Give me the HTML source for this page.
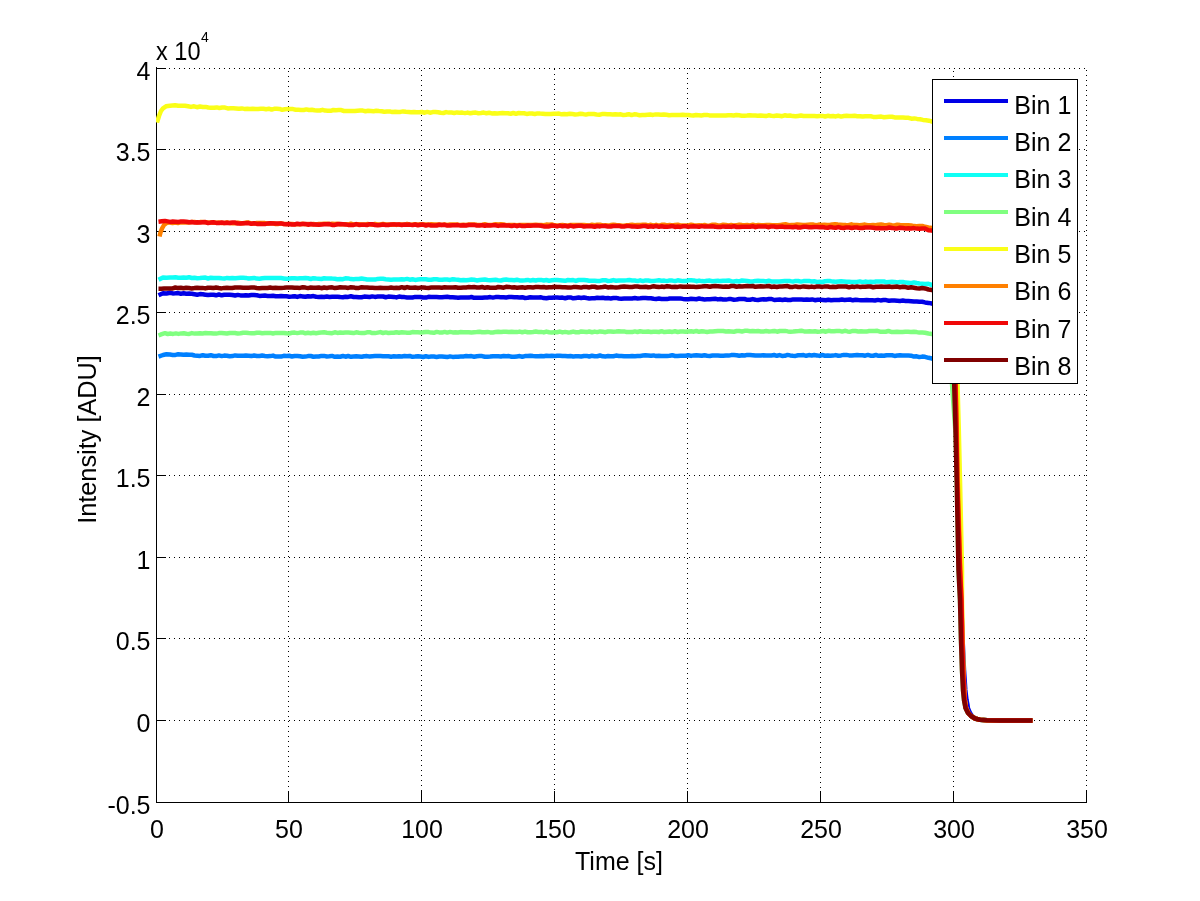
<!DOCTYPE html>
<html><head><meta charset="utf-8"><title>Intensity vs Time</title>
<style>html,body{margin:0;padding:0;background:#fff;width:1200px;height:901px;overflow:hidden}</style>
</head><body>
<div style="will-change:transform;width:1200px;height:901px">
<svg width="1200" height="901" viewBox="0 0 1200 901" style="display:block">
<rect x="0" y="0" width="1200" height="901" fill="#fff"/>
<g stroke="#000" stroke-width="1" stroke-dasharray="1 4" shape-rendering="crispEdges" fill="none"><line x1="159" y1="68.5" x2="1087" y2="68.5"/><line x1="159" y1="149.5" x2="1087" y2="149.5"/><line x1="159" y1="231.5" x2="1087" y2="231.5"/><line x1="159" y1="312.5" x2="1087" y2="312.5"/><line x1="159" y1="394.5" x2="1087" y2="394.5"/><line x1="159" y1="475.5" x2="1087" y2="475.5"/><line x1="159" y1="557.5" x2="1087" y2="557.5"/><line x1="159" y1="638.5" x2="1087" y2="638.5"/><line x1="159" y1="720.5" x2="1087" y2="720.5"/><line x1="288.5" y1="802" x2="288.5" y2="68"/><line x1="421.5" y1="801" x2="421.5" y2="68"/><line x1="554.5" y1="800" x2="554.5" y2="68"/><line x1="687.5" y1="799" x2="687.5" y2="68"/><line x1="820.5" y1="798" x2="820.5" y2="68"/><line x1="953.5" y1="802" x2="953.5" y2="68"/><line x1="1086.5" y1="801" x2="1086.5" y2="68"/></g>
<g stroke="#000" stroke-width="1" shape-rendering="crispEdges" fill="none">
<line x1="156.5" y1="67" x2="156.5" y2="803"/>
<line x1="156" y1="802.5" x2="1087" y2="802.5"/>
<line x1="156" y1="68.5" x2="166" y2="68.5"/>
<line x1="156" y1="149.5" x2="166" y2="149.5"/>
<line x1="156" y1="231.5" x2="166" y2="231.5"/>
<line x1="156" y1="312.5" x2="166" y2="312.5"/>
<line x1="156" y1="394.5" x2="166" y2="394.5"/>
<line x1="156" y1="475.5" x2="166" y2="475.5"/>
<line x1="156" y1="557.5" x2="166" y2="557.5"/>
<line x1="156" y1="638.5" x2="166" y2="638.5"/>
<line x1="156" y1="720.5" x2="166" y2="720.5"/>
<line x1="156" y1="802.5" x2="166" y2="802.5"/>
<line x1="156.5" y1="803" x2="156.5" y2="791"/>
<line x1="288.5" y1="803" x2="288.5" y2="791"/>
<line x1="421.5" y1="803" x2="421.5" y2="791"/>
<line x1="554.5" y1="803" x2="554.5" y2="791"/>
<line x1="687.5" y1="803" x2="687.5" y2="791"/>
<line x1="820.5" y1="803" x2="820.5" y2="791"/>
<line x1="953.5" y1="803" x2="953.5" y2="791"/>
<line x1="1086.5" y1="803" x2="1086.5" y2="791"/>
</g>
<defs><clipPath id="pa"><rect x="156" y="60" width="940" height="745"/></clipPath></defs><g clip-path="url(#pa)">
<polyline points="158.5,295.3 163.0,293.2 166.5,293.5 170.0,292.8 172.7,293.4 175.5,293.3 178.2,293.1 180.9,293.7 183.6,293.3 186.4,293.8 189.1,293.6 191.8,293.7 194.5,294.2 197.3,294.7 200.0,294.1 202.7,294.3 205.4,294.7 208.1,295.1 210.8,294.8 213.5,294.7 216.2,295.3 218.9,294.4 221.6,295.3 224.3,294.8 227.0,294.7 229.7,294.7 232.4,295.0 235.1,295.5 237.8,294.9 240.5,295.4 243.2,295.5 245.9,295.3 248.6,295.5 251.4,295.1 254.1,295.1 256.8,295.3 259.5,295.9 262.2,295.7 264.9,295.6 267.6,295.9 270.3,295.9 273.0,295.8 275.7,296.3 278.4,296.3 281.1,295.9 283.8,296.3 286.5,296.3 289.2,296.7 291.9,296.6 294.6,296.2 297.3,296.9 300.0,296.1 302.7,296.4 305.4,296.8 308.0,296.2 310.7,296.5 313.4,296.1 316.1,296.8 318.8,296.9 321.4,296.7 324.1,297.0 326.8,296.5 329.5,296.9 332.1,296.8 334.8,296.8 337.5,296.7 340.2,297.1 342.9,297.2 345.5,296.7 348.2,296.9 350.9,296.3 353.6,297.0 356.2,296.9 358.9,297.3 361.6,297.2 364.3,296.6 367.0,296.7 369.6,297.0 372.3,296.4 375.0,296.9 377.7,296.6 380.4,296.5 383.0,296.5 385.7,297.2 388.4,296.6 391.1,296.7 393.8,296.9 396.4,297.4 399.1,296.6 401.8,297.0 404.5,297.1 407.1,297.5 409.8,297.4 412.5,297.5 415.2,296.9 417.9,297.0 420.5,297.0 423.2,297.5 425.9,297.6 428.6,296.8 431.2,296.9 433.9,296.9 436.6,297.0 439.3,297.2 442.0,297.3 444.6,297.0 447.3,296.8 450.0,297.2 452.7,297.2 455.4,297.4 458.0,297.8 460.7,297.5 463.4,297.4 466.1,297.5 468.8,297.6 471.4,297.0 474.1,297.8 476.8,297.7 479.5,297.8 482.1,297.7 484.8,297.4 487.5,297.4 490.2,297.1 492.9,297.6 495.5,297.1 498.2,297.1 500.9,297.2 503.6,297.2 506.2,297.4 508.9,297.1 511.6,297.1 514.3,297.3 517.0,297.2 519.6,297.5 522.3,297.2 525.0,298.0 527.7,297.8 530.4,297.3 533.0,297.4 535.7,297.5 538.4,297.6 541.1,297.3 543.8,298.1 546.4,298.2 549.1,297.7 551.8,297.8 554.5,297.4 557.1,297.4 559.8,297.7 562.5,297.6 565.2,298.2 567.9,297.5 570.5,297.4 573.2,298.3 575.9,297.9 578.6,297.5 581.2,298.0 583.9,297.5 586.6,298.0 589.3,298.4 592.0,298.3 594.6,298.2 597.3,297.7 600.0,297.9 602.7,297.7 605.4,298.3 608.0,298.1 610.7,298.4 613.4,298.0 616.1,297.9 618.8,298.5 621.4,298.7 624.1,298.6 626.8,298.6 629.5,298.6 632.1,298.5 634.8,298.1 637.5,298.4 640.2,298.2 642.9,297.9 645.5,298.0 648.2,298.2 650.9,298.2 653.6,298.7 656.2,299.0 658.9,298.5 661.6,299.0 664.3,299.1 667.0,299.1 669.6,298.5 672.3,298.4 675.0,298.4 677.7,298.4 680.4,298.5 683.0,298.9 685.7,299.2 688.4,299.2 691.1,298.8 693.8,299.0 696.4,299.2 699.1,298.5 701.8,299.1 704.5,299.4 707.1,299.3 709.8,299.3 712.5,299.0 715.2,298.8 717.9,299.4 720.5,299.0 723.2,299.5 725.9,299.6 728.6,299.1 731.2,299.1 733.9,299.7 736.6,299.5 739.3,299.0 742.0,299.0 744.6,299.0 747.3,299.8 750.0,299.7 752.7,299.1 755.4,299.8 758.1,299.9 760.8,299.6 763.5,299.3 766.2,299.5 768.9,299.1 771.6,299.0 774.3,300.0 777.0,299.7 779.7,299.6 782.4,300.0 785.1,299.5 787.8,300.0 790.5,300.0 793.2,299.4 795.9,299.4 798.6,299.5 801.4,299.4 804.1,299.8 806.8,299.5 809.5,299.7 812.2,299.4 814.9,300.2 817.6,299.7 820.3,299.8 823.0,299.9 825.7,300.3 828.4,299.8 831.1,300.3 833.8,299.9 836.5,300.0 839.2,300.0 841.9,299.5 844.6,299.9 847.3,299.7 850.0,299.5 852.8,300.3 855.6,299.7 858.3,300.1 861.1,300.3 863.9,300.2 866.7,300.0 869.4,300.2 872.2,300.3 875.0,300.5 877.8,299.9 880.6,300.4 883.3,300.1 886.1,300.1 888.9,300.7 891.7,300.4 894.4,300.5 897.2,300.7 900.0,300.9 902.8,300.6 905.6,300.9 908.3,301.0 911.1,301.2 913.9,301.5 916.7,301.5 919.4,301.7 922.2,301.8 925.0,302.4 928.5,302.9 932.0,303.5 938.0,306.5 946.0,313.2 951.0,347.8 954.5,350.0 955.2,384.0 956.6,430.0 957.8,480.0 959.1,540.0 960.9,560.0 961.1,568.0 960.8,570.0 960.0,580.0 961.2,600.0 962.2,630.0 962.6,640.0 964.0,670.0 965.3,690.0 966.5,700.0 967.5,705.0 967.9,708.0 970.0,713.0 972.0,716.0 975.2,718.5 976.9,719.0 980.0,719.8 987.0,720.3 1000.0,720.5 1032.5,720.5" fill="none" stroke="#0000e6" stroke-width="4.5" stroke-linejoin="round" stroke-linecap="butt"/>
<polyline points="158.5,356.6 163.0,355.0 166.5,354.3 170.0,354.5 172.7,354.9 175.5,354.9 178.2,354.3 180.9,354.4 183.6,354.8 186.4,354.6 189.1,354.8 191.8,354.8 194.5,355.5 197.3,355.7 200.0,355.9 202.7,355.2 205.4,355.8 208.1,355.7 210.8,355.2 213.5,356.0 216.2,356.1 218.9,355.4 221.6,356.1 224.3,355.6 227.0,355.7 229.7,356.2 232.4,356.1 235.1,355.4 237.8,355.7 240.5,355.8 243.2,355.7 245.9,355.6 248.6,355.7 251.4,356.1 254.1,355.5 256.8,356.0 259.5,355.9 262.2,355.5 264.9,355.9 267.6,356.2 270.3,356.1 273.0,355.6 275.7,356.6 278.4,356.4 281.1,356.6 283.8,355.8 286.5,356.0 289.2,355.8 291.9,356.5 294.6,356.0 297.3,355.9 300.0,356.2 302.7,356.7 305.4,356.6 308.0,356.1 310.7,356.0 313.4,356.7 316.1,356.4 318.8,356.5 321.4,355.9 324.1,355.9 326.8,356.5 329.5,356.3 332.1,355.9 334.8,356.8 337.5,356.5 340.2,356.7 342.9,356.0 345.5,356.7 348.2,356.0 350.9,356.8 353.6,356.4 356.2,356.3 358.9,356.5 361.6,356.8 364.3,356.2 367.0,356.1 369.6,356.5 372.3,356.2 375.0,356.1 377.7,356.1 380.4,356.0 383.0,356.2 385.7,356.3 388.4,356.3 391.1,356.7 393.8,356.3 396.4,356.5 399.1,356.2 401.8,356.4 404.5,356.0 407.1,356.3 409.8,356.0 412.5,356.8 415.2,356.6 417.9,356.2 420.5,356.5 423.2,357.0 425.9,356.2 428.6,356.9 431.2,356.5 433.9,356.6 436.6,356.9 439.3,356.5 442.0,356.6 444.6,356.8 447.3,357.1 450.0,356.4 452.7,356.9 455.4,356.8 458.0,356.7 460.7,356.5 463.4,356.4 466.1,356.1 468.8,356.2 471.4,356.1 474.1,356.7 476.8,356.2 479.5,356.1 482.1,356.1 484.8,356.8 487.5,356.8 490.2,356.6 492.9,356.2 495.5,356.2 498.2,356.2 500.9,356.4 503.6,356.0 506.2,356.3 508.9,356.1 511.6,356.8 514.3,356.8 517.0,356.4 519.6,356.1 522.3,356.8 525.0,356.1 527.7,356.1 530.4,355.8 533.0,356.1 535.7,356.2 538.4,356.2 541.1,355.9 543.8,356.2 546.4,355.7 549.1,356.0 551.8,355.8 554.5,356.1 557.1,355.7 559.8,355.7 562.5,356.0 565.2,355.9 567.9,356.2 570.5,356.1 573.2,356.4 575.9,356.3 578.6,356.3 581.2,356.5 583.9,356.0 586.6,355.9 589.3,356.5 592.0,355.7 594.6,356.2 597.3,356.2 600.0,355.5 602.7,356.3 605.4,356.4 608.0,356.1 610.7,356.2 613.4,356.3 616.1,355.6 618.8,355.9 621.4,355.9 624.1,356.2 626.8,356.2 629.5,356.2 632.1,356.0 634.8,356.3 637.5,356.0 640.2,356.0 642.9,355.6 645.5,355.3 648.2,355.4 650.9,355.7 653.6,355.4 656.2,356.1 658.9,355.8 661.6,355.9 664.3,355.9 667.0,355.9 669.6,355.7 672.3,355.2 675.0,356.0 677.7,355.9 680.4,355.7 683.0,355.7 685.7,355.8 688.4,355.2 691.1,355.9 693.8,355.4 696.4,355.2 699.1,355.4 701.8,355.8 704.5,355.3 707.1,355.8 709.8,356.0 712.5,355.5 715.2,355.4 717.9,355.5 720.5,355.7 723.2,355.8 725.9,355.6 728.6,355.6 731.2,355.1 733.9,355.1 736.6,355.2 739.3,355.7 742.0,355.2 744.6,355.5 747.3,354.9 750.0,355.0 752.7,355.2 755.4,355.6 758.0,355.6 760.7,355.6 763.4,355.2 766.1,355.4 768.8,355.4 771.4,355.4 774.1,355.0 776.8,355.8 779.5,355.1 782.1,355.9 784.8,355.8 787.5,354.9 790.2,355.4 792.9,355.7 795.5,355.9 798.2,355.3 800.9,355.2 803.6,355.1 806.2,355.8 808.9,355.1 811.6,355.5 814.3,355.0 817.0,355.4 819.6,355.9 822.3,355.0 825.0,355.7 827.7,355.4 830.4,355.8 833.0,355.6 835.7,355.1 838.4,355.8 841.1,355.4 843.8,354.9 846.4,354.9 849.1,355.4 851.8,355.4 854.5,355.2 857.1,355.0 859.8,355.2 862.5,355.2 865.2,355.7 867.9,354.9 870.5,355.7 873.2,355.7 875.9,355.0 878.6,355.8 881.2,355.6 883.9,355.8 886.6,355.2 889.3,355.3 892.0,355.3 894.6,355.9 897.3,355.5 900.0,355.3 902.8,355.5 905.6,355.5 908.3,355.5 911.1,355.7 913.9,356.6 916.7,356.3 919.4,357.1 922.2,356.6 925.0,356.8 928.5,357.8 932.0,358.5 938.0,361.5 946.0,361.6 951.0,372.5 954.3,350.0 955.0,384.0 956.3,430.0 957.5,480.0 959.3,570.0 960.8,600.0 961.8,640.0 962.8,670.0 963.8,690.0 964.5,700.0 965.8,708.0 968.2,713.0 971.1,716.0 975.0,718.5 976.9,719.0 980.0,719.8 987.0,720.3 1000.0,720.5 1032.5,720.5" fill="none" stroke="#0080ff" stroke-width="4.5" stroke-linejoin="round" stroke-linecap="butt"/>
<polyline points="158.5,279.7 163.0,277.4 166.5,277.7 170.0,277.4 172.7,277.4 175.5,277.3 178.2,277.7 180.9,277.8 183.6,277.5 186.4,277.8 189.1,277.2 191.8,278.0 194.5,277.8 197.3,278.2 200.0,278.1 202.7,277.8 205.4,277.6 208.1,278.5 210.8,277.7 213.5,278.0 216.2,277.9 218.9,277.9 221.6,278.3 224.3,278.6 227.0,277.9 229.7,278.3 232.4,277.9 235.1,278.2 237.8,278.0 240.5,277.8 243.2,277.8 245.9,277.9 248.6,278.6 251.4,278.2 254.1,277.9 256.8,278.6 259.5,278.7 262.2,278.2 264.9,277.9 267.6,278.0 270.3,277.9 273.0,278.1 275.7,277.9 278.4,278.1 281.1,278.1 283.8,278.4 286.5,278.7 289.2,278.6 291.9,278.3 294.6,278.3 297.3,278.4 300.0,278.3 302.7,278.3 305.4,278.0 308.0,278.3 310.7,279.0 313.4,278.2 316.1,278.6 318.8,278.7 321.4,279.0 324.1,278.3 326.8,278.4 329.5,278.4 332.1,278.6 334.8,278.7 337.5,279.2 340.2,279.1 342.9,279.2 345.5,278.3 348.2,278.4 350.9,279.1 353.6,279.3 356.2,278.9 358.9,279.0 361.6,278.5 364.3,278.9 367.0,279.5 369.6,279.4 372.3,279.4 375.0,279.6 377.7,278.9 380.4,278.8 383.0,278.8 385.7,279.2 388.4,279.4 391.1,279.7 393.8,279.5 396.4,279.4 399.1,279.6 401.8,279.3 404.5,279.4 407.1,278.9 409.8,279.7 412.5,279.2 415.2,279.9 417.9,279.6 420.5,279.3 423.2,279.2 425.9,279.3 428.6,279.7 431.2,279.8 433.9,279.3 436.6,279.2 439.3,279.7 442.0,279.8 444.6,279.6 447.3,279.5 450.0,279.9 452.7,279.3 455.4,279.6 458.0,279.8 460.7,280.3 463.4,280.0 466.1,280.3 468.8,279.9 471.4,279.6 474.1,279.7 476.8,280.4 479.5,280.1 482.1,279.8 484.8,279.5 487.5,280.0 490.2,280.2 492.9,279.9 495.5,279.8 498.2,280.2 500.9,280.5 503.6,279.8 506.2,279.6 508.9,279.9 511.6,280.0 514.3,280.3 517.0,279.8 519.6,280.4 522.3,280.4 525.0,280.2 527.7,279.9 530.4,280.6 533.0,280.0 535.7,280.5 538.4,279.9 541.1,279.9 543.8,280.5 546.4,280.0 549.1,280.7 551.8,280.3 554.5,280.0 557.1,280.0 559.8,280.2 562.5,280.5 565.2,280.8 567.9,280.0 570.5,280.3 573.2,280.1 575.9,280.9 578.6,280.0 581.2,280.0 583.9,280.0 586.6,280.3 589.3,280.8 592.0,280.8 594.6,280.7 597.3,281.0 600.0,280.9 602.7,280.3 605.4,280.2 608.0,281.0 610.7,280.8 613.4,280.1 616.1,280.7 618.8,280.4 621.4,280.4 624.1,280.4 626.8,280.3 629.5,280.1 632.1,280.4 634.8,280.5 637.5,281.1 640.2,280.3 642.9,281.1 645.5,280.4 648.2,280.5 650.9,281.0 653.6,281.0 656.2,280.6 658.9,280.2 661.6,280.7 664.3,280.6 667.0,281.1 669.6,280.4 672.3,280.6 675.0,281.1 677.7,280.3 680.4,280.7 683.0,281.1 685.7,281.1 688.4,280.3 691.1,280.3 693.8,280.4 696.4,281.2 699.1,280.6 701.8,281.1 704.5,281.2 707.1,280.7 709.8,280.6 712.5,281.3 715.2,281.0 717.9,280.7 720.5,281.1 723.2,280.7 725.9,280.7 728.6,280.4 731.2,281.2 733.9,281.4 736.6,281.1 739.3,281.4 742.0,280.5 744.6,280.7 747.3,281.0 750.0,281.5 752.7,281.5 755.4,280.9 758.0,280.8 760.7,281.0 763.4,281.1 766.1,281.5 768.8,280.8 771.4,281.4 774.1,281.4 776.8,281.5 779.5,281.5 782.1,281.3 784.8,281.1 787.5,281.1 790.2,281.1 792.9,281.6 795.5,280.9 798.2,281.0 800.9,281.6 803.6,281.1 806.2,280.9 808.9,280.9 811.6,281.5 814.3,281.3 817.0,281.9 819.6,281.8 822.3,282.0 825.0,281.3 827.7,281.1 830.4,281.1 833.0,281.6 835.7,281.8 838.4,281.5 841.1,281.3 843.8,281.5 846.4,281.8 849.1,281.8 851.8,281.9 854.5,282.0 857.1,281.9 859.8,281.4 862.5,282.1 865.2,281.6 867.9,281.9 870.5,281.7 873.2,282.1 875.9,281.5 878.6,281.6 881.2,281.6 883.9,281.5 886.6,282.3 889.3,282.0 892.0,281.8 894.6,281.9 897.3,282.5 900.0,282.0 902.8,281.9 905.6,282.6 908.3,282.7 911.1,283.2 913.9,282.4 916.7,283.0 919.4,283.5 922.2,283.7 925.0,283.9 928.5,283.8 932.0,285.0 938.0,288.0 946.0,296.9 951.0,339.4 954.1,350.0 954.8,384.0 956.1,430.0 957.3,480.0 959.1,570.0 960.6,600.0 961.6,640.0 962.6,670.0 963.6,690.0 964.4,700.0 965.7,708.0 968.1,713.0 971.1,716.0 975.0,718.5 976.9,719.0 980.0,719.8 987.0,720.3 1000.0,720.5 1032.5,720.5" fill="none" stroke="#10fff5" stroke-width="4.5" stroke-linejoin="round" stroke-linecap="butt"/>
<polyline points="158.5,335.5 161.8,334.2 165.0,333.2 167.7,334.0 170.4,333.6 173.1,333.9 175.8,333.4 178.5,333.9 181.2,333.4 183.8,333.3 186.5,333.8 189.2,333.9 191.9,333.1 194.6,333.6 197.3,333.6 200.0,333.2 202.7,333.4 205.4,333.1 208.1,333.2 210.8,333.2 213.5,333.5 216.2,333.6 218.9,333.1 221.6,332.9 224.3,333.2 227.0,333.5 229.7,333.0 232.4,333.1 235.1,333.0 237.8,333.6 240.5,333.3 243.2,332.8 245.9,332.8 248.6,333.1 251.4,333.2 254.1,333.3 256.8,332.8 259.5,332.8 262.2,333.3 264.9,333.0 267.6,332.9 270.3,332.9 273.0,333.5 275.7,332.9 278.4,333.1 281.1,332.9 283.8,332.9 286.5,333.3 289.2,333.5 291.9,332.8 294.6,332.6 297.3,333.1 300.0,332.6 302.7,332.4 305.4,333.3 308.0,332.8 310.7,333.2 313.4,332.8 316.1,333.2 318.8,332.8 321.4,332.5 324.1,332.3 326.8,332.8 329.5,332.9 332.1,333.2 334.8,332.3 337.5,332.9 340.2,332.6 342.9,332.7 345.5,332.4 348.2,332.5 350.9,332.7 353.6,333.1 356.2,332.3 358.9,332.7 361.6,333.0 364.3,333.1 367.0,332.3 369.6,332.2 372.3,333.1 375.0,333.1 377.7,332.6 380.4,332.1 383.0,333.0 385.7,332.4 388.4,333.0 391.1,332.7 393.8,332.8 396.4,332.2 399.1,332.8 401.8,332.2 404.5,332.4 407.1,332.8 409.8,332.8 412.5,332.1 415.2,332.2 417.9,332.3 420.5,332.4 423.2,332.3 425.9,332.0 428.6,332.1 431.2,332.6 433.9,332.8 436.6,331.9 439.3,332.4 442.0,332.6 444.6,331.9 447.3,332.6 450.0,331.9 452.7,332.4 455.4,332.3 458.0,332.4 460.7,332.1 463.4,332.2 466.1,332.3 468.8,332.2 471.4,332.4 474.1,332.2 476.8,332.1 479.5,331.7 482.1,332.3 484.8,332.2 487.5,331.9 490.2,332.4 492.9,332.4 495.5,332.1 498.2,331.8 500.9,332.1 503.6,331.7 506.2,331.7 508.9,332.0 511.6,331.7 514.3,332.0 517.0,332.1 519.6,331.6 522.3,332.2 525.0,331.6 527.7,332.3 530.4,332.3 533.0,332.0 535.7,331.6 538.4,332.0 541.1,331.9 543.8,332.4 546.4,331.6 549.1,332.3 551.8,332.5 554.5,332.2 557.1,332.3 559.8,331.6 562.5,332.4 565.2,331.9 567.9,332.4 570.5,332.3 573.2,331.6 575.9,332.2 578.6,332.3 581.2,331.4 583.9,331.7 586.6,332.1 589.3,331.5 592.0,332.2 594.6,331.6 597.3,332.1 600.0,331.4 602.7,331.8 605.4,332.2 608.0,331.5 610.7,331.5 613.4,331.8 616.1,331.6 618.8,331.3 621.4,331.4 624.1,331.4 626.8,332.1 629.5,331.9 632.1,332.1 634.8,331.4 637.5,332.0 640.2,331.3 642.9,331.7 645.5,331.8 648.2,331.5 650.9,332.0 653.6,331.7 656.2,331.7 658.9,332.0 661.6,331.2 664.3,332.1 667.0,331.7 669.6,331.5 672.3,331.9 675.0,331.3 677.7,332.0 680.4,331.6 683.0,331.4 685.7,331.8 688.4,331.4 691.1,331.2 693.8,331.7 696.4,331.0 699.1,331.8 701.8,331.2 704.5,331.6 707.1,331.9 709.8,331.5 712.5,331.6 715.2,331.2 717.9,330.9 720.5,330.9 723.2,331.0 725.9,331.5 728.6,331.3 731.2,331.4 733.9,331.7 736.6,331.0 739.3,331.1 742.0,331.5 744.6,330.8 747.3,330.8 750.0,331.2 752.7,330.9 755.4,331.2 758.1,331.0 760.8,331.4 763.5,331.4 766.2,331.0 769.0,331.4 771.7,331.3 774.4,330.9 777.1,331.7 779.8,331.0 782.5,330.9 785.2,330.9 787.9,331.4 790.6,331.7 793.3,331.6 796.0,331.2 798.8,331.1 801.5,330.8 804.2,331.4 806.9,331.4 809.6,331.2 812.3,331.4 815.0,331.2 817.7,331.7 820.4,331.5 823.1,331.0 825.8,331.7 828.5,330.8 831.2,331.3 834.0,331.2 836.7,331.0 839.4,330.9 842.1,331.6 844.8,330.8 847.5,331.4 850.2,331.7 852.9,330.9 855.6,331.0 858.3,331.4 861.0,331.3 863.8,331.4 866.5,331.6 869.2,331.0 871.9,331.1 874.6,331.1 877.3,330.8 880.0,331.7 882.8,331.7 885.6,331.7 888.4,331.0 891.2,331.9 894.1,331.9 896.9,331.7 899.7,332.1 902.5,331.9 905.3,331.7 908.1,331.7 910.9,331.9 913.8,331.7 916.6,332.1 919.4,332.6 922.2,332.6 925.0,332.8 928.5,333.5 932.0,334.0 938.0,337.0 946.0,340.0 951.0,361.5 951.3,350.0 952.0,384.0 955.3,430.0 955.6,435.0 956.7,480.0 958.5,570.0 960.0,600.0 961.0,640.0 962.0,670.0 963.0,690.0 964.0,700.0 965.5,708.0 968.0,713.0 971.0,716.0 975.0,718.5 976.9,719.0 980.0,719.8 987.0,720.3 1000.0,720.5 1032.5,720.5" fill="none" stroke="#80ff80" stroke-width="4.5" stroke-linejoin="round" stroke-linecap="butt"/>
<polyline points="157.0,122.5 159.0,116.0 161.0,111.0 163.0,108.3 166.0,106.3 170.0,105.7 175.0,105.2 178.3,105.8 181.7,105.8 185.0,105.8 188.0,106.3 191.0,106.9 194.0,106.3 197.0,107.2 200.0,106.5 202.8,106.9 205.6,106.9 208.3,107.5 211.1,107.8 213.9,107.7 216.7,107.4 219.4,108.0 222.2,107.6 225.0,107.6 227.8,108.4 230.6,108.2 233.3,108.3 236.1,108.4 238.9,108.8 241.7,108.4 244.4,108.9 247.2,108.8 250.0,109.1 252.7,108.7 255.4,109.0 258.1,108.9 260.7,108.7 263.4,108.7 266.1,109.2 268.8,108.7 271.5,109.6 274.2,108.8 276.9,108.8 279.6,108.9 282.2,109.8 284.9,109.3 287.6,109.1 290.3,109.1 293.0,109.1 295.7,109.8 298.4,109.8 301.0,109.9 303.7,110.0 306.4,109.4 309.1,110.0 311.8,109.8 314.5,110.3 317.2,110.4 319.9,110.5 322.5,109.8 325.2,110.6 327.9,110.7 330.6,110.8 333.3,110.0 336.0,110.2 338.7,110.1 341.3,110.1 344.0,111.0 346.7,111.0 349.4,110.9 352.1,111.1 354.8,111.0 357.5,110.7 360.1,110.6 362.8,110.6 365.5,111.3 368.2,110.8 370.9,111.0 373.6,111.2 376.3,110.8 379.0,111.1 381.6,111.2 384.3,111.7 387.0,111.4 389.7,111.4 392.4,112.1 395.1,111.7 397.8,112.1 400.4,111.9 403.1,111.4 405.8,111.8 408.5,111.9 411.2,112.3 413.9,111.9 416.6,112.3 419.3,112.2 421.9,112.0 424.6,112.7 427.3,111.9 430.0,112.7 432.7,112.1 435.4,112.0 438.1,112.2 440.7,112.8 443.4,113.0 446.1,112.1 448.8,112.6 451.5,112.6 454.2,113.0 456.9,112.4 459.6,112.7 462.2,112.6 464.9,113.1 467.6,112.6 470.3,113.3 473.0,112.7 475.7,112.6 478.4,113.2 481.0,113.0 483.7,112.6 486.4,113.2 489.1,112.7 491.8,113.4 494.5,113.3 497.2,113.5 499.9,113.3 502.5,113.1 505.2,113.2 507.9,113.2 510.6,113.7 513.3,113.0 516.0,113.8 518.7,113.0 521.3,113.2 524.0,113.3 526.7,113.9 529.4,113.6 532.1,113.5 534.8,114.0 537.5,113.4 540.1,113.6 542.8,113.7 545.5,114.0 548.2,114.0 550.9,114.0 553.6,113.7 556.3,113.7 559.0,113.6 561.6,114.3 564.3,114.1 567.0,114.2 569.7,113.7 572.4,114.0 575.1,114.4 577.8,114.2 580.4,113.8 583.1,114.1 585.8,114.6 588.5,114.0 591.2,114.0 593.9,114.1 596.6,114.5 599.3,114.7 601.9,114.1 604.6,114.1 607.3,114.2 610.0,114.3 612.7,114.5 615.4,114.2 618.1,114.4 620.8,114.3 623.4,115.1 626.1,114.8 628.8,114.2 631.5,115.1 634.2,114.3 636.9,114.6 639.6,115.2 642.3,115.0 644.9,115.0 647.6,114.7 650.3,114.5 653.0,114.9 655.7,114.4 658.4,114.6 661.1,114.8 663.8,114.4 666.5,114.8 669.1,115.2 671.8,115.1 674.5,115.0 677.2,115.1 679.9,115.0 682.6,114.7 685.3,115.1 688.0,115.0 690.6,115.3 693.3,115.5 696.0,115.0 698.7,115.2 701.4,115.4 704.1,115.1 706.8,114.9 709.5,115.4 712.2,115.6 714.8,115.5 717.5,115.5 720.2,115.6 722.9,115.5 725.6,115.5 728.3,115.3 731.0,115.2 733.7,115.5 736.3,115.0 739.0,115.3 741.7,115.7 744.4,115.7 747.1,115.6 749.8,115.3 752.5,115.4 755.2,115.5 757.8,115.7 760.5,115.5 763.2,115.8 765.9,116.1 768.6,115.3 771.3,115.8 774.0,116.0 776.7,115.6 779.4,115.7 782.0,116.2 784.7,115.3 787.4,115.8 790.1,115.5 792.8,116.1 795.5,116.3 798.2,115.9 800.9,115.5 803.5,116.0 806.2,116.0 808.9,116.1 811.6,116.0 814.3,116.1 817.0,116.3 819.7,116.0 822.4,115.9 825.1,116.5 827.7,115.8 830.4,116.3 833.1,116.0 835.8,116.4 838.5,115.8 841.2,116.6 843.9,116.0 846.6,115.8 849.2,116.0 851.9,116.1 854.6,115.8 857.3,116.2 860.0,116.2 862.7,116.6 865.3,116.3 868.0,116.3 870.7,116.3 873.3,116.9 876.0,117.1 878.7,116.8 881.3,116.6 884.0,117.2 886.7,116.9 889.3,116.7 892.0,116.7 894.7,117.4 897.3,117.5 900.0,117.4 902.9,117.5 905.7,117.8 908.6,117.8 911.4,118.7 914.3,118.4 917.1,118.9 920.0,119.3 923.0,119.9 926.0,120.2 929.0,120.7 932.0,121.5 938.0,124.5 946.0,153.0 951.0,265.9 956.8,350.0 957.5,384.0 958.8,430.0 960.0,480.0 962.0,570.0 962.0,600.0 962.6,640.0 963.4,670.0 964.2,690.0 964.9,700.0 965.7,705.0 966.1,708.0 968.3,713.0 971.2,716.0 975.0,718.5 976.9,719.0 980.0,719.8 987.0,720.3 1000.0,720.5 1032.5,720.5" fill="none" stroke="#fafe18" stroke-width="4.5" stroke-linejoin="round" stroke-linecap="butt"/>
<polyline points="159.5,236.5 160.5,232.5 162.0,228.5 164.0,225.0 167.0,222.8 169.8,222.4 172.5,223.1 175.2,222.5 178.0,223.0 180.8,222.4 183.5,222.4 186.2,222.3 189.0,222.4 191.8,222.1 194.5,221.9 197.2,222.6 200.0,222.1 202.7,222.1 205.4,222.2 208.1,222.4 210.8,222.4 213.5,222.7 216.2,222.7 218.9,222.5 221.6,223.1 224.3,223.1 227.0,222.3 229.7,223.1 232.4,223.3 235.1,223.2 237.8,222.6 240.5,223.3 243.2,223.2 245.9,222.6 248.6,222.6 251.4,223.6 254.1,223.4 256.8,223.0 259.5,222.9 262.2,223.0 264.9,223.1 267.6,223.7 270.3,223.3 273.0,223.2 275.7,224.0 278.4,223.9 281.1,223.3 283.8,224.1 286.5,223.9 289.2,224.1 291.9,224.0 294.6,224.3 297.3,224.2 300.0,224.3 302.7,223.7 305.4,224.2 308.0,224.1 310.7,224.3 313.4,224.0 316.1,224.4 318.8,224.1 321.4,223.9 324.1,223.8 326.8,223.7 329.5,224.1 332.1,223.7 334.8,224.1 337.5,223.8 340.2,224.2 342.9,224.2 345.5,224.2 348.2,224.6 350.9,223.7 353.6,224.6 356.2,224.2 358.9,224.3 361.6,224.4 364.3,224.6 367.0,224.1 369.6,224.2 372.3,224.7 375.0,223.9 377.7,224.4 380.4,224.5 383.0,223.9 385.7,224.5 388.4,224.5 391.1,224.8 393.8,224.2 396.4,224.9 399.1,224.4 401.8,224.4 404.5,224.8 407.1,224.0 409.8,224.7 412.5,224.6 415.2,224.3 417.9,224.8 420.5,224.3 423.2,224.5 425.9,224.5 428.6,224.8 431.2,224.2 433.9,224.5 436.6,224.5 439.3,224.6 442.0,224.9 444.6,224.4 447.3,224.9 450.0,224.5 452.7,224.6 455.4,224.4 458.0,224.6 460.7,225.1 463.4,224.8 466.1,225.0 468.8,224.5 471.4,224.5 474.1,224.5 476.8,224.8 479.5,224.9 482.1,225.0 484.8,224.3 487.5,225.0 490.2,225.1 492.9,224.8 495.5,224.3 498.2,224.6 500.9,224.3 503.6,224.5 506.2,225.2 508.9,224.9 511.6,225.0 514.3,225.1 517.0,225.3 519.6,225.0 522.3,225.0 525.0,225.0 527.7,225.1 530.4,225.0 533.0,225.1 535.7,224.7 538.4,225.1 541.1,224.9 543.8,225.2 546.4,224.6 549.1,224.7 551.8,224.5 554.5,225.3 557.1,225.4 559.8,225.2 562.5,224.9 565.2,225.4 567.9,225.4 570.5,225.1 573.2,224.9 575.9,224.9 578.6,225.0 581.2,224.9 583.9,225.1 586.6,225.3 589.3,225.6 592.0,224.7 594.6,225.2 597.3,224.7 600.0,224.8 602.7,225.5 605.4,225.3 608.0,225.6 610.7,225.1 613.4,224.7 616.1,225.1 618.8,225.3 621.4,225.6 624.1,225.7 626.8,225.2 629.5,225.1 632.1,224.8 634.8,225.3 637.5,224.9 640.2,224.9 642.9,224.7 645.5,224.7 648.2,225.4 650.9,224.8 653.6,225.7 656.2,224.8 658.9,225.6 661.6,224.8 664.3,224.7 667.0,225.4 669.6,224.9 672.3,225.4 675.0,224.9 677.7,224.8 680.4,225.5 683.0,225.4 685.7,225.6 688.4,225.4 691.1,224.8 693.8,225.3 696.4,225.4 699.1,225.2 701.8,225.6 704.5,225.0 707.1,225.7 709.8,225.4 712.5,224.7 715.2,224.7 717.9,225.4 720.5,225.5 723.2,224.8 725.9,225.0 728.6,225.4 731.2,224.9 733.9,225.6 736.6,225.2 739.3,224.8 742.0,225.1 744.6,225.3 747.3,225.1 750.0,225.4 752.8,224.8 755.6,225.4 758.3,225.0 761.1,225.2 763.9,225.2 766.7,224.9 769.4,224.9 772.2,225.2 775.0,225.3 777.8,225.2 780.6,224.9 783.3,224.6 786.1,224.3 788.9,225.2 791.7,224.9 794.4,225.0 797.2,224.5 800.0,224.7 802.7,225.1 805.4,225.0 808.1,224.7 810.8,224.5 813.5,224.6 816.2,225.1 818.9,224.6 821.6,224.9 824.3,224.8 827.0,225.1 829.7,225.0 832.4,224.5 835.1,224.2 837.8,224.5 840.5,224.7 843.2,224.9 845.9,225.1 848.6,225.2 851.4,224.3 854.1,225.1 856.8,225.1 859.5,225.2 862.2,224.9 864.9,224.6 867.6,225.2 870.3,225.2 873.0,225.1 875.7,225.3 878.4,224.8 881.1,224.5 883.8,225.0 886.5,225.2 889.2,224.7 891.9,225.2 894.6,225.4 897.3,224.7 900.0,225.1 902.8,225.3 905.6,225.3 908.3,225.2 911.1,225.4 913.9,226.1 916.7,226.3 919.4,226.1 922.2,225.9 925.0,226.8 928.5,227.5 932.0,228.0 938.0,231.0 946.0,246.7 951.0,313.8 955.0,350.0 955.7,384.0 956.8,430.0 957.7,480.0 960.3,570.0 961.6,600.0 962.5,640.0 963.3,670.0 964.2,690.0 964.8,700.0 966.0,708.0 968.2,713.0 971.1,716.0 975.0,718.5 976.9,719.0 980.0,719.8 987.0,720.3 1000.0,720.5 1032.5,720.5" fill="none" stroke="#ff8000" stroke-width="4.5" stroke-linejoin="round" stroke-linecap="butt"/>
<polyline points="158.5,221.7 161.8,221.3 165.0,220.9 170.0,221.9 172.7,221.6 175.5,221.7 178.2,221.9 180.9,221.6 183.6,221.6 186.4,221.7 189.1,222.3 191.8,222.1 194.5,222.4 197.3,222.3 200.0,222.5 202.7,222.2 205.4,222.1 208.1,223.1 210.8,222.6 213.5,222.3 216.2,222.9 218.9,223.1 221.6,222.5 224.3,223.0 227.0,222.8 229.7,223.0 232.4,222.6 235.1,222.6 237.8,223.6 240.5,223.6 243.2,223.2 245.9,223.3 248.6,223.1 251.4,223.7 254.1,223.3 256.8,223.9 259.5,223.8 262.2,223.9 264.9,224.1 267.6,223.4 270.3,223.2 273.0,223.4 275.7,223.5 278.4,223.4 281.1,223.4 283.8,224.0 286.5,224.3 289.2,224.0 291.9,224.5 294.6,224.5 297.3,223.7 300.0,224.3 302.7,224.1 305.4,223.9 308.0,224.7 310.7,224.0 313.4,224.4 316.1,224.4 318.8,224.8 321.4,224.5 324.1,224.3 326.8,224.3 329.5,224.1 332.1,224.9 334.8,224.9 337.5,224.2 340.2,224.0 342.9,224.2 345.5,224.4 348.2,224.9 350.9,224.9 353.6,224.9 356.2,224.1 358.9,224.9 361.6,224.8 364.3,224.8 367.0,225.1 369.6,224.2 372.3,224.3 375.0,225.0 377.7,225.2 380.4,224.9 383.0,224.6 385.7,224.9 388.4,225.0 391.1,224.4 393.8,224.6 396.4,224.6 399.1,224.5 401.8,224.9 404.5,224.6 407.1,224.7 409.8,224.6 412.5,225.1 415.2,224.5 417.9,225.2 420.5,224.7 423.2,224.6 425.9,225.5 428.6,224.8 431.2,225.5 433.9,225.5 436.6,225.5 439.3,224.8 442.0,225.1 444.6,224.8 447.3,225.6 450.0,225.5 452.7,225.3 455.4,225.2 458.0,225.1 460.7,225.6 463.4,225.3 466.1,225.4 468.8,225.0 471.4,225.1 474.1,224.9 476.8,225.6 479.5,225.5 482.1,225.1 484.8,225.8 487.5,225.2 490.2,225.4 492.9,225.2 495.5,225.3 498.2,225.9 500.9,225.4 503.6,225.3 506.2,225.6 508.9,225.5 511.6,226.1 514.3,225.3 517.0,226.2 519.6,225.3 522.3,226.1 525.0,225.9 527.7,225.5 530.4,225.8 533.0,225.6 535.7,225.6 538.4,225.5 541.1,225.7 543.8,226.4 546.4,226.4 549.1,226.4 551.8,225.5 554.5,225.8 557.1,226.4 559.8,225.6 562.5,226.3 565.2,225.8 567.9,226.5 570.5,225.6 573.2,226.4 575.9,226.0 578.6,225.8 581.2,225.7 583.9,226.5 586.6,226.2 589.3,225.9 592.0,226.2 594.6,226.7 597.3,226.0 600.0,226.4 602.7,225.9 605.4,226.0 608.0,226.6 610.7,226.5 613.4,226.0 616.1,225.9 618.8,225.9 621.4,226.5 624.1,226.4 626.8,226.1 629.5,226.1 632.1,226.5 634.8,226.6 637.5,226.7 640.2,226.5 642.9,226.1 645.5,226.0 648.2,226.7 650.9,226.3 653.6,226.7 656.2,226.0 658.9,226.8 661.6,226.3 664.3,226.8 667.0,226.8 669.6,226.5 672.3,226.0 675.0,226.9 677.7,226.5 680.4,226.9 683.0,226.3 685.7,226.2 688.4,226.9 691.1,226.4 693.8,226.2 696.4,226.4 699.1,226.7 701.8,226.1 704.5,226.6 707.1,226.5 709.8,226.6 712.5,226.2 715.2,226.8 717.9,226.9 720.5,227.0 723.2,226.4 725.9,226.8 728.6,226.5 731.2,226.9 733.9,226.2 736.6,227.0 739.3,227.1 742.0,226.7 744.6,226.7 747.3,226.7 750.0,226.7 752.7,226.2 755.4,227.2 758.0,226.5 760.7,226.5 763.4,226.4 766.1,226.6 768.8,227.2 771.4,226.4 774.1,226.5 776.8,227.1 779.5,226.7 782.1,226.5 784.8,227.1 787.5,227.1 790.2,227.1 792.9,227.3 795.5,226.7 798.2,227.5 800.9,227.4 803.6,226.7 806.2,226.8 808.9,227.2 811.6,227.2 814.3,227.0 817.0,226.9 819.6,227.2 822.3,227.0 825.0,227.4 827.7,227.7 830.4,227.0 833.0,227.5 835.7,227.7 838.4,227.1 841.1,227.8 843.8,228.0 846.4,227.4 849.1,227.5 851.8,227.9 854.5,227.6 857.1,227.5 859.8,228.1 862.5,228.0 865.2,227.5 867.9,227.5 870.5,227.6 873.2,227.7 875.9,228.3 878.6,228.1 881.2,228.3 883.9,228.2 886.6,228.2 889.3,227.5 892.0,227.9 894.6,228.4 897.3,228.4 900.0,227.7 902.8,228.0 905.6,228.4 908.3,228.2 911.1,228.5 913.9,228.1 916.7,228.6 919.4,228.8 922.2,228.4 925.0,228.6 928.5,230.2 932.0,230.5 938.0,233.5 946.0,248.9 951.0,314.9 954.8,350.0 955.5,384.0 956.4,430.0 957.2,480.0 960.0,570.0 961.4,600.0 962.2,640.0 963.1,670.0 964.0,690.0 964.7,700.0 965.9,708.0 968.2,713.0 971.1,716.0 975.0,718.5 976.9,719.0 980.0,719.8 987.0,720.3 1000.0,720.5 1032.5,720.5" fill="none" stroke="#f00808" stroke-width="4.5" stroke-linejoin="round" stroke-linecap="butt"/>
<polyline points="158.5,288.8 161.4,288.8 164.2,288.4 167.1,288.4 170.0,288.4 172.7,288.4 175.4,287.5 178.1,288.1 180.8,287.7 183.5,288.2 186.2,287.7 189.0,288.0 191.7,288.4 194.4,288.1 197.1,287.7 199.8,288.0 202.5,287.9 205.2,288.4 207.9,287.7 210.6,287.7 213.3,288.1 216.0,287.5 218.8,288.0 221.5,288.4 224.2,287.9 226.9,287.7 229.6,287.9 232.3,287.9 235.0,287.5 237.7,287.5 240.4,287.5 243.1,287.7 245.8,287.8 248.5,287.7 251.2,287.6 254.0,287.5 256.7,287.9 259.4,288.2 262.1,288.0 264.8,287.9 267.5,288.0 270.2,287.5 272.9,288.1 275.6,287.8 278.3,287.9 281.0,287.9 283.8,287.8 286.5,287.6 289.2,287.6 291.9,287.5 294.6,287.8 297.3,287.7 300.0,287.9 302.7,287.3 305.4,287.6 308.0,288.1 310.7,287.5 313.4,287.8 316.1,287.8 318.8,287.5 321.4,288.2 324.1,287.5 326.8,288.0 329.5,287.4 332.1,287.3 334.8,288.1 337.5,287.7 340.2,287.3 342.9,287.6 345.5,287.6 348.2,287.9 350.9,287.3 353.6,287.4 356.2,288.1 358.9,287.9 361.6,287.3 364.3,287.5 367.0,287.5 369.6,287.8 372.3,287.8 375.0,288.0 377.7,288.0 380.4,287.7 383.0,287.9 385.7,287.9 388.4,287.9 391.1,287.6 393.8,287.9 396.4,287.8 399.1,288.0 401.8,287.2 404.5,288.0 407.1,287.1 409.8,287.8 412.5,287.7 415.2,287.6 417.9,288.0 420.5,287.6 423.2,287.5 425.9,287.8 428.6,287.9 431.2,287.6 433.9,287.4 436.6,287.5 439.3,287.5 442.0,287.7 444.6,287.3 447.3,287.4 450.0,287.6 452.7,287.4 455.4,287.3 458.0,287.8 460.7,287.8 463.4,287.5 466.1,287.4 468.8,287.1 471.4,287.2 474.1,287.1 476.8,287.5 479.5,287.5 482.1,287.0 484.8,287.8 487.5,287.2 490.2,287.7 492.9,287.7 495.5,287.8 498.2,287.0 500.9,287.3 503.6,287.7 506.2,286.8 508.9,286.9 511.6,287.4 514.3,287.3 517.0,287.7 519.6,287.5 522.3,287.3 525.0,287.7 527.7,287.3 530.4,287.2 533.0,287.4 535.7,287.1 538.4,287.1 541.1,287.3 543.8,287.0 546.4,287.6 549.1,287.3 551.8,287.2 554.5,286.8 557.1,287.0 559.8,287.0 562.5,287.2 565.2,287.2 567.9,287.5 570.5,287.6 573.2,287.1 575.9,287.0 578.6,287.2 581.2,287.6 583.9,286.9 586.6,287.1 589.3,287.4 592.0,286.7 594.6,286.8 597.3,287.5 600.0,287.3 602.7,287.0 605.4,286.6 608.0,287.4 610.7,287.1 613.4,287.3 616.1,287.4 618.8,287.3 621.4,286.8 624.1,286.6 626.8,286.7 629.5,286.9 632.1,286.9 634.8,286.5 637.5,286.5 640.2,287.0 642.9,286.9 645.5,286.7 648.2,287.3 650.9,286.9 653.6,286.3 656.2,286.7 658.9,287.1 661.6,286.6 664.3,286.9 667.0,286.2 669.6,286.5 672.3,287.1 675.0,286.8 677.7,286.9 680.4,286.4 683.0,286.7 685.7,286.7 688.4,286.4 691.1,286.8 693.8,286.7 696.4,287.1 699.1,286.7 701.8,286.5 704.5,286.2 707.1,286.2 709.8,286.8 712.5,286.2 715.2,286.1 717.9,286.2 720.5,286.5 723.2,286.8 725.9,286.6 728.6,286.8 731.2,286.0 733.9,286.0 736.6,286.7 739.3,286.3 742.0,286.6 744.6,286.3 747.3,286.1 750.0,286.2 752.7,286.0 755.4,286.8 758.0,286.5 760.7,286.3 763.4,286.4 766.1,286.3 768.8,286.0 771.4,286.9 774.1,286.6 776.8,287.0 779.5,286.5 782.1,286.6 784.8,286.3 787.5,286.1 790.2,287.0 792.9,286.9 795.5,286.4 798.2,287.0 800.9,286.9 803.6,286.4 806.2,286.7 808.9,287.1 811.6,286.6 814.3,287.1 817.0,286.4 819.6,286.6 822.3,286.9 825.0,286.4 827.7,286.5 830.4,287.1 833.0,286.7 835.7,287.0 838.4,286.5 841.1,286.4 843.8,286.6 846.4,286.5 849.1,287.3 851.8,286.6 854.5,286.9 857.1,286.4 859.8,286.9 862.5,286.7 865.2,286.8 867.9,286.4 870.5,286.5 873.2,287.2 875.9,286.8 878.6,286.7 881.2,286.6 883.9,286.7 886.6,286.7 889.3,286.5 892.0,287.1 894.6,286.8 897.3,286.6 900.0,287.2 902.8,286.8 905.6,287.1 908.3,287.8 911.1,287.3 913.9,287.8 916.7,288.3 919.4,288.5 922.2,288.0 925.0,288.4 928.5,289.5 932.0,290.0 938.0,293.0 946.0,301.3 951.0,341.7 953.5,350.0 954.2,384.0 955.5,430.0 956.7,480.0 958.5,570.0 960.0,600.0 961.0,640.0 962.0,670.0 963.0,690.0 964.0,700.0 965.5,708.0 968.0,713.0 971.0,716.0 975.0,718.5 976.9,719.0 980.0,719.8 987.0,720.3 1000.0,720.5 1032.5,720.5" fill="none" stroke="#800000" stroke-width="4.5" stroke-linejoin="round" stroke-linecap="butt"/>
</g>
<g font-family='"Liberation Sans", Arial, Helvetica, sans-serif' font-size="25" fill="#000"><text x="150.5" y="80" text-anchor="end">4</text><text x="150.5" y="161" text-anchor="end">3.5</text><text x="150.5" y="243" text-anchor="end">3</text><text x="150.5" y="324" text-anchor="end">2.5</text><text x="150.5" y="406" text-anchor="end">2</text><text x="150.5" y="487" text-anchor="end">1.5</text><text x="150.5" y="569" text-anchor="end">1</text><text x="150.5" y="650" text-anchor="end">0.5</text><text x="150.5" y="732" text-anchor="end">0</text><text x="150.5" y="814" text-anchor="end">-0.5</text><text x="157" y="838" text-anchor="middle">0</text><text x="289" y="838" text-anchor="middle">50</text><text x="422" y="838" text-anchor="middle">100</text><text x="555" y="838" text-anchor="middle">150</text><text x="688" y="838" text-anchor="middle">200</text><text x="821" y="838" text-anchor="middle">250</text><text x="954" y="838" text-anchor="middle">300</text><text x="1087" y="838" text-anchor="middle">350</text><text x="156" y="60" textLength="44.5" lengthAdjust="spacingAndGlyphs">x 10</text><text x="201" y="41.5" font-size="14">4</text><text x="619" y="870" text-anchor="middle">Time [s]</text><text transform="translate(96,439.5) rotate(-90)" text-anchor="middle" textLength="168.7" lengthAdjust="spacingAndGlyphs">Intensity [ADU]</text></g>
<rect x="932.5" y="79.5" width="145" height="304" fill="#fff" stroke="#000" stroke-width="1"/>
<line x1="944" y1="101.0" x2="1008" y2="101.0" stroke="#0000e6" stroke-width="4"/>
<text x="1014.3" y="113.8" font-family='"Liberation Sans", Arial, Helvetica, sans-serif' font-size="25" fill="#000">Bin 1</text>
<line x1="944" y1="138.0" x2="1008" y2="138.0" stroke="#0080ff" stroke-width="4"/>
<text x="1014.3" y="151.1" font-family='"Liberation Sans", Arial, Helvetica, sans-serif' font-size="25" fill="#000">Bin 2</text>
<line x1="944" y1="175.0" x2="1008" y2="175.0" stroke="#10fff5" stroke-width="4"/>
<text x="1014.3" y="188.4" font-family='"Liberation Sans", Arial, Helvetica, sans-serif' font-size="25" fill="#000">Bin 3</text>
<line x1="944" y1="212.0" x2="1008" y2="212.0" stroke="#80ff80" stroke-width="4"/>
<text x="1014.3" y="225.7" font-family='"Liberation Sans", Arial, Helvetica, sans-serif' font-size="25" fill="#000">Bin 4</text>
<line x1="944" y1="249.0" x2="1008" y2="249.0" stroke="#fafe18" stroke-width="4"/>
<text x="1014.3" y="263.0" font-family='"Liberation Sans", Arial, Helvetica, sans-serif' font-size="25" fill="#000">Bin 5</text>
<line x1="944" y1="286.0" x2="1008" y2="286.0" stroke="#ff8000" stroke-width="4"/>
<text x="1014.3" y="300.3" font-family='"Liberation Sans", Arial, Helvetica, sans-serif' font-size="25" fill="#000">Bin 6</text>
<line x1="944" y1="323.0" x2="1008" y2="323.0" stroke="#f00808" stroke-width="4"/>
<text x="1014.3" y="337.6" font-family='"Liberation Sans", Arial, Helvetica, sans-serif' font-size="25" fill="#000">Bin 7</text>
<line x1="944" y1="360.0" x2="1008" y2="360.0" stroke="#800000" stroke-width="4"/>
<text x="1014.3" y="374.9" font-family='"Liberation Sans", Arial, Helvetica, sans-serif' font-size="25" fill="#000">Bin 8</text>
</svg>
</div>
</body></html>
